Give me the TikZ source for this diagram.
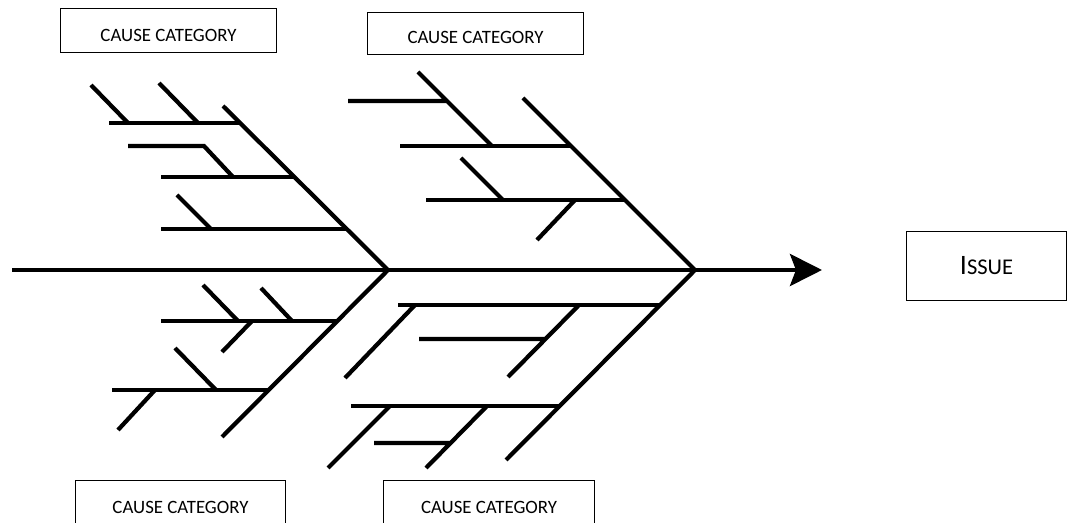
\documentclass[tikz,border=0pt]{standalone}
\usepackage{fontspec}
\setmainfont{Carlito}
\usetikzlibrary{arrows.meta}

\begin{document}
\begin{tikzpicture}[x=0.025cm, y=-0.025cm, bone/.style = {line width=3pt}, catbox/.style = {draw, line width=0.7pt, minimum width=5.375cm, minimum height=1.075cm, text depth=0pt, text height=8.4pt, font=\fontsize{13.4}{15}\selectfont}]
\useasboundingbox (0,0) rectangle (1067,523);
\clip (0,0) rectangle (1067,523);
% category boxes and head
\node[catbox, text height=16.2pt] (cattl) at (168.5,30.5) {CAUSE CATEGORY};
\node[catbox, minimum height=1.025cm, text height=14.8pt] (cattr) at (475.5,33.5) {CAUSE CATEGORY};
\node[catbox, minimum width=5.225cm, minimum height=1.325cm] (catbl) at (180.5,507.5) {CAUSE CATEGORY};
\node[catbox, minimum width=5.25cm, minimum height=1.325cm] (catbr) at (489,507.5) {CAUSE CATEGORY};
\node[catbox, minimum width=3.975cm, minimum height=1.7cm, text height=12.6pt] (issue) at (986.5,266) {{\fontsize{20}{22}\selectfont I}{\fontsize{16}{18}\selectfont SSUE}};
% spine
\coordinate (tail) at (12,270);
\coordinate (jl) at (388,270);
\coordinate (jr) at (695,270);
\coordinate (tip) at (822,270);
\draw[bone, -{Stealth[length=0.8cm, width=0.8cm, inset=0.15cm]}] (tail) -- (tip);
% upper left
\draw[bone] (223,106) -- (jl);
\draw[bone] (109,123) -- (240,123) (161,177) -- (294,177) (161,229) -- (346,229);
\draw[bone] (91,85) -- (128,123) (159,83) -- (198,123) (177,195) -- (211,229);
\draw[bone] (128,146) -- (204,146) -- (233,177);
% upper right
\draw[bone] (523,98) -- (jr);
\draw[bone] (400,146) -- (571,146) (426,200) -- (625,200);
\draw[bone] (418,72) -- (492,146) (348,101) -- (448,101);
\draw[bone] (461,158) -- (503,200) (575,200) -- (537,240);
% lower left
\draw[bone] (jl) -- (222,437);
\draw[bone] (161,321) -- (337,321) (112,390) -- (268,390);
\draw[bone] (203,285) -- (238,321) (261,288) -- (292,321) (252,321) -- (222,352);
\draw[bone] (175,348) -- (216,390) (155,390) -- (118,430);
% lower right
\draw[bone] (jr) -- (506,460);
\draw[bone] (398,305) -- (660,305) (351,406) -- (559,406);
\draw[bone] (415,305) -- (345,378) (579,305) -- (508,377) (419,339) -- (545,339);
\draw[bone] (390,406) -- (328,468) (487,406) -- (426,468) (374,443) -- (450,443);
\end{tikzpicture}
\end{document}
